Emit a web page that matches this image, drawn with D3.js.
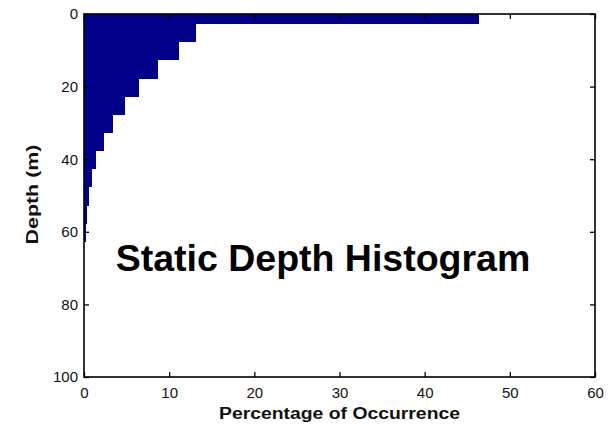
<!DOCTYPE html>
<html>
<head>
<meta charset="utf-8">
<script src="https://cdn.jsdelivr.net/npm/d3@7"></script>
<style>
  body { margin: 0; background: #fff; }
  svg { font-family: "Liberation Sans", Arial, sans-serif; }
</style>
</head>
<body>
<script>
var width = 608;
var height = 428;

// depth bins (m), bin centres, 5 m wide
var depths = [0, 5, 10, 15, 20, 25, 30, 35, 40, 45, 50, 55, 60];
// percentage of occurrence per bin
var percents = [46.4, 13.1, 11.2, 8.7, 6.4, 4.8, 3.4, 2.3, 1.4, 0.9, 0.6, 0.3, 0.2];
var binWidth = 5;

var xTicks = [0, 10, 20, 30, 40, 50, 60];
var yTicks = [0, 20, 40, 60, 80, 100];

var margin = {top: 14, right: 13, bottom: 51, left: 84};
var w = width - margin.left - margin.right,
    h = height - margin.top - margin.bottom;

var svg = d3.select('body').append('svg')
  .attr('width', width)
  .attr('height', height);

var g = svg.append('g')
  .attr('transform', 'translate(' + margin.left + ',' + margin.top + ')');

var x = d3.scaleLinear().domain([0, 60]).range([0, w]);
var y = d3.scaleLinear().domain([0, 100]).range([0, h]);

var data = depths.map(function(d, i){ return {depth: d, pct: percents[i]}; });

g.selectAll('.bar')
  .data(data)
  .enter()
  .append('rect')
  .attr('class', 'bar')
  .attr('x', x(0))
  .attr('y', function(d){ return y(Math.max(0, d.depth - binWidth / 2)); })
  .attr('width', function(d){ return x(d.pct) - x(0); })
  .attr('height', function(d){
    return y(d.depth + binWidth / 2) - y(Math.max(0, d.depth - binWidth / 2)) + 1;
  })
  .attr('fill', '#000088')
  .attr('shape-rendering', 'crispEdges');

// axes, matlab style: ticks inward, box all round
var tickLen = 5;
var axisStyle = function(sel){
  sel.select('.domain').remove();
  sel.selectAll('line').attr('stroke', '#000').attr('stroke-width', 1.3);
  sel.selectAll('text').attr('fill', '#111').style('font-size', '15px');
};

g.append('g')
  .attr('transform', 'translate(0,' + h + ')')
  .call(d3.axisBottom(x).tickValues(xTicks).tickSize(-tickLen).tickPadding(10))
  .call(axisStyle);

g.append('g')
  .call(d3.axisTop(x).tickValues(xTicks).tickSize(-tickLen).tickFormat(''))
  .call(axisStyle);

g.append('g')
  .call(d3.axisLeft(y).tickValues(yTicks).tickSize(-tickLen).tickPadding(6))
  .call(axisStyle);

g.append('g')
  .attr('transform', 'translate(' + w + ',0)')
  .call(d3.axisRight(y).tickValues(yTicks).tickSize(-tickLen).tickFormat(''))
  .call(axisStyle);

g.append('rect')
  .attr('width', w)
  .attr('height', h)
  .attr('fill', 'none')
  .attr('stroke', '#000')
  .attr('stroke-width', 1.6);

// labels
svg.append('text')
  .attr('x', margin.left + x(30))
  .attr('y', 419)
  .attr('text-anchor', 'middle')
  .attr('textLength', 241)
  .attr('lengthAdjust', 'spacingAndGlyphs')
  .style('font-size', '16px')
  .style('font-weight', 'bold')
  .attr('fill', '#111')
  .text('Percentage of Occurrence');

svg.append('text')
  .attr('transform', 'translate(38,' + (margin.top + h / 2 - 1) + ') rotate(-90)')
  .attr('text-anchor', 'middle')
  .attr('textLength', 100)
  .attr('lengthAdjust', 'spacingAndGlyphs')
  .style('font-size', '16px')
  .style('font-weight', 'bold')
  .attr('fill', '#111')
  .text('Depth (m)');

svg.append('text')
  .attr('x', 323)
  .attr('y', 271)
  .attr('text-anchor', 'middle')
  .style('font-size', '37.5px')
  .style('font-weight', 'bold')
  .attr('fill', '#000')
  .text('Static Depth Histogram');
</script>
</body>
</html>
